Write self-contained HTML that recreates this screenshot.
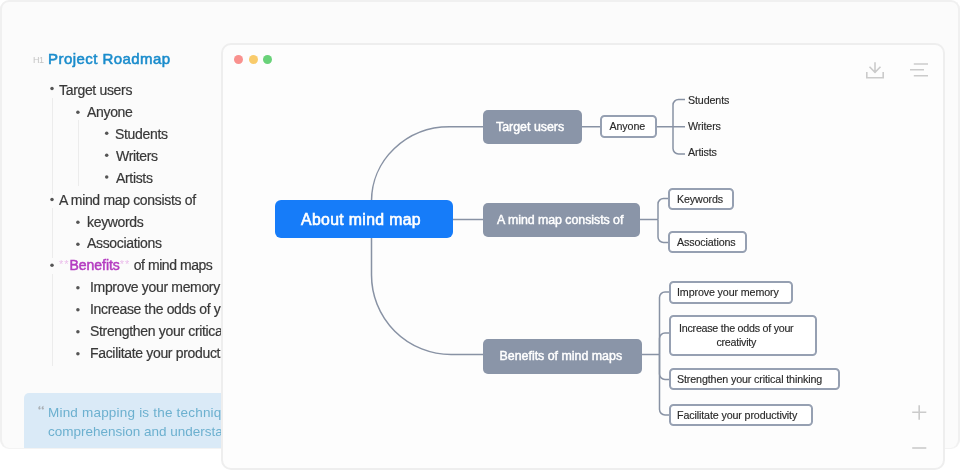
<!DOCTYPE html>
<html><head><meta charset="utf-8">
<style>
.t,.node,.lt{will-change:transform;}
html,body{margin:0;padding:0;width:960px;height:470px;overflow:hidden;background:#ffffff;font-family:"Liberation Sans",sans-serif;}
#panel{position:absolute;left:0px;top:0px;width:956px;height:446.3px;border:2px solid #f0f0f0;border-bottom-width:0;box-shadow:0 1px 0 #f3f3f3;border-radius:9px;background:#fbfbfb;overflow:hidden;}
.t{position:absolute;white-space:nowrap;line-height:1;}
.li{font-size:14px;letter-spacing:-0.33px;color:#383838;-webkit-text-stroke:0.2px #383838;}
.dot{position:absolute;width:3.2px;height:3.2px;border-radius:50%;background:#5a5a5a;}
.ast{color:#ebbdeb;font-size:11px;letter-spacing:1px;vertical-align:2px;-webkit-text-stroke:0;}
.guide{position:absolute;width:1px;background:#ececec;}
#quote{position:absolute;left:22px;top:391px;width:400px;height:80px;background:#daeaf7;border-radius:5px;}
.q{font-size:13.5px;color:#6cb0cf;}
#win{position:absolute;left:220.5px;top:43px;width:720px;height:423px;border:2px solid #eeeeee;border-radius:10px;background:#fdfdfd;}
.light{position:absolute;width:9px;height:9px;border-radius:50%;}
.node{position:absolute;box-sizing:border-box;white-space:nowrap;text-align:center;}
.grey{background:#8a95a8;color:#fff;border-radius:5px;font-size:12.4px;font-weight:400;-webkit-text-stroke:0.45px #fff;letter-spacing:-0.2px;}
.leaf{background:#fff;border:2px solid #96a0b2;border-radius:4.5px;color:#2a2a2a;font-size:10.7px;letter-spacing:-0.12px;-webkit-text-stroke:0.15px #2a2a2a;}
.lt{position:absolute;white-space:nowrap;color:#2a2a2a;font-size:10.7px;letter-spacing:-0.12px;line-height:1;-webkit-text-stroke:0.15px #2a2a2a;}
</style></head>
<body>
<div id="panel">
  <div class="t" style="left:30.5px;top:54px;font-size:9px;letter-spacing:-0.4px;color:#c4c4c4;">H1</div>
  <div class="t" style="left:45.5px;top:49.3px;font-size:15px;letter-spacing:0.45px;font-weight:400;-webkit-text-stroke:0.55px #1a8ccc;color:#1a8ccc;">Project Roadmap</div>

  <svg style="position:absolute;left:-2px;top:-2px;" width="240" height="400"><circle cx="52" cy="88.5" r="1.75" fill="#555"/><circle cx="52" cy="199.5" r="1.75" fill="#555"/><circle cx="52" cy="265.2" r="1.75" fill="#555"/><circle cx="77.9" cy="112.2" r="1.75" fill="#555"/><circle cx="77.9" cy="222.3" r="1.75" fill="#555"/><circle cx="77.9" cy="244.3" r="1.75" fill="#555"/><circle cx="77.9" cy="287.7" r="1.75" fill="#555"/><circle cx="77.9" cy="309.7" r="1.75" fill="#555"/><circle cx="77.9" cy="331.8" r="1.75" fill="#555"/><circle cx="77.9" cy="353.8" r="1.75" fill="#555"/><circle cx="106.7" cy="133.3" r="1.75" fill="#555"/><circle cx="106.7" cy="155.2" r="1.75" fill="#555"/><circle cx="106.7" cy="177" r="1.75" fill="#555"/></svg>
  <div class="guide" style="left:49.5px;top:96px;height:96px;"></div>
  <div class="guide" style="left:75.5px;top:118px;height:66px;"></div>
  <div class="guide" style="left:49.5px;top:206px;height:50px;"></div>
  <div class="guide" style="left:49.5px;top:272px;height:92px;"></div>
  <div class="t li" style="left:57px;top:81.40px;">Target users</div>
  <div class="t li" style="left:85px;top:103.25px;">Anyone</div>
  <div class="t li" style="left:113px;top:125.10px;">Students</div>
  <div class="t li" style="left:114px;top:146.95px;">Writers</div>
  <div class="t li" style="left:114px;top:168.80px;">Artists</div>
  <div class="t li" style="left:57px;top:190.65px;">A mind map consists of</div>
  <div class="t li" style="left:85px;top:212.50px;">keywords</div>
  <div class="t li" style="left:85px;top:234.35px;">Associations</div>
  <div class="t li" style="left:57px;top:256.20px;"><span class="ast">**</span><span style="color:#b43cc0;-webkit-text-stroke:0.5px #b43cc0;letter-spacing:-0.05px;">Benefits</span><span class="ast">**</span><span style="letter-spacing:-0.45px;"> of mind maps</span></div>
  <div class="t li" style="left:88px;top:278.05px;">Improve your memory</div>
  <div class="t li" style="left:88px;top:299.90px;">Increase the odds of your creativity</div>
  <div class="t li" style="left:88px;top:321.75px;">Strengthen your critical thinking</div>
  <div class="t li" style="left:88px;top:343.60px;">Facilitate your productivity</div>

  <div id="quote"></div>
  <svg style="position:absolute;left:34px;top:400px;" width="12" height="10" viewBox="0 0 12 10"><path d="M2.9 7.4 C2.2 6.9 2.1 5.9 2.6 5.1 C3.0 4.4 3.6 3.9 4.2 3.7 L4.5 4.2 C4.0 4.5 3.7 4.9 3.7 5.4 C4.3 5.4 4.7 5.9 4.6 6.5 C4.5 7.3 3.6 7.8 2.9 7.4 Z M6.2 7.4 C5.5 6.9 5.4 5.9 5.9 5.1 C6.3 4.4 6.9 3.9 7.5 3.7 L7.8 4.2 C7.3 4.5 7.0 4.9 7.0 5.4 C7.6 5.4 8.0 5.9 7.9 6.5 C7.8 7.3 6.9 7.8 6.2 7.4 Z" fill="#a9afb4"/></svg>
  <div class="t q" style="left:45.5px;top:403.5px;letter-spacing:0.2px;">Mind mapping is the technique to improve</div>
  <div class="t q" style="left:45.5px;top:422.5px;">comprehension and understanding</div>
</div>

<div id="win">
</div>
<div class="light" style="left:234.2px;top:55px;background:#f9918e;"></div>
<div class="light" style="left:248.5px;top:55px;background:#f9cb6b;"></div>
<div class="light" style="left:263px;top:55px;background:#69d279;"></div>

<svg width="960" height="470" style="position:absolute;left:0;top:0;" fill="none">
  <g stroke="#8892a4" stroke-width="1.5">
    <path d="M371.5 201 A78 74.25 0 0 1 449.5 126.75 L484 126.75"/>
    <path d="M371.5 238 L371.5 275 A79.5 79.5 0 0 0 451 354.5 L484 354.5"/>
    <path d="M453 219.5 L484 219.5"/>
    <path d="M581 126.75 H601"/>
    <path d="M655 126.75 H685"/>
    <path d="M673 126.75 V105 A5.5 5.5 0 0 1 678.5 99.5 H685"/>
    <path d="M673 126.75 V148.5 A5.5 5.5 0 0 0 678.5 154 H685"/>
    <path d="M640 219.5 H658"/>
    <path d="M658 219.5 V204 A5.5 5.5 0 0 1 663.5 198.5 H669.5"/>
    <path d="M658 219.5 V237 A5.5 5.5 0 0 0 663.5 242.5 H669.5"/>
    <path d="M641 354.5 H659.5"/>
    <path d="M659.5 354.5 V297.5 A5.5 5.5 0 0 1 665 292 H670"/>
    <path d="M659.5 354.5 V338.5 A5.5 5.5 0 0 1 665 333 H670"/>
    <path d="M659.5 354.5 V374 A5.5 5.5 0 0 0 665 379.5 H670"/>
    <path d="M659.5 354.5 V409.5 A5.5 5.5 0 0 0 665 415 H670"/>
  </g>
  <g stroke="#cbcbcb" stroke-width="1.6" stroke-linecap="butt">
    <path d="M866.8 72 V77.8 H883.2 V72"/>
    <path d="M875 62.2 V73 M869.5 66.8 L875 72.3 L880.5 66.8"/>
    <path d="M913.8 64 H928 M910 69.8 H924 M913.8 75.8 H928"/>
    <path d="M912.2 412.3 H926.3 M919.2 405.3 V419.8"/>
    <path d="M912.2 448 H926.3"/>
  </g>
</svg>

<div class="node" style="left:275px;top:200px;width:178px;height:38px;background:#167cf9;border-radius:6px;color:#fff;font-size:15.8px;font-weight:400;-webkit-text-stroke:0.6px #fff;letter-spacing:0.35px;line-height:39.5px;padding-right:6px;">About mind map</div>
<div class="node grey" style="left:483px;top:110px;width:99px;height:34px;line-height:34px;text-align:left;padding-left:13px;letter-spacing:0px;">Target users</div>
<div class="node grey" style="left:483px;top:203px;width:157px;height:34px;line-height:35px;text-align:left;padding-left:14px;letter-spacing:-0.05px;">A mind map consists of</div>
<div class="node grey" style="left:483px;top:338.5px;width:159px;height:34.5px;line-height:34.5px;text-align:left;padding-left:16.5px;letter-spacing:0px;">Benefits of mind maps</div>

<div class="node leaf" style="left:599.6px;top:114.8px;width:56.6px;height:22.9px;line-height:19px;padding-right:2px;">Anyone</div>
<div class="lt" style="left:688px;top:95px;">Students</div>
<div class="lt" style="left:688px;top:121px;">Writers</div>
<div class="lt" style="left:688px;top:147px;">Artists</div>

<div class="node leaf" style="left:668.4px;top:187.8px;width:65.9px;height:22px;line-height:18px;text-align:left;padding-left:7px;">Keywords</div>
<div class="node leaf" style="left:668.4px;top:231.2px;width:79.3px;height:22px;line-height:18px;text-align:left;padding-left:7px;">Associations</div>

<div class="node leaf" style="left:669.1px;top:281px;width:124.4px;height:22.7px;line-height:18.6px;text-align:left;padding-left:6px;">Improve your memory</div>
<div class="node leaf" style="left:669.1px;top:314.7px;width:147.5px;height:40.6px;line-height:13.6px;padding-top:5.2px;padding-right:13px;letter-spacing:-0.25px;white-space:normal;">Increase the odds of your<br>creativity</div>
<div class="node leaf" style="left:669.1px;top:368px;width:170.5px;height:22.3px;line-height:18.4px;text-align:left;padding-left:6px;">Strengthen your critical thinking</div>
<div class="node leaf" style="left:669.1px;top:404.4px;width:143.7px;height:22.3px;line-height:18.4px;text-align:left;padding-left:6px;">Facilitate your productivity</div>

</body></html>
